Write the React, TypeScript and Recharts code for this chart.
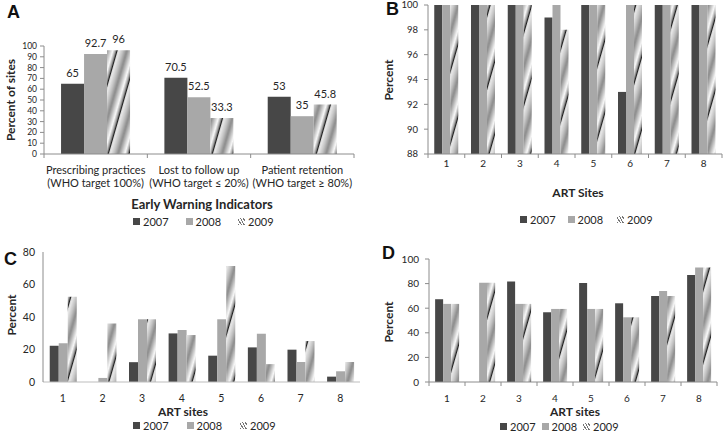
import type { CSSProperties } from "react";
import { BarChart, Bar, XAxis, YAxis, LabelList } from "recharts";

/* ── Data ─────────────────────────────────────────────────────────────── */
const indicators = ["Prescribing practices", "Lost to follow up", "Patient retention"];
const targets = ["(WHO target 100%)", "(WHO target ≤ 20%)", "(WHO target ≥ 80%)"];
const ewi2007 = [65, 70.5, 53];
const ewi2008 = [92.7, 52.5, 35];
const ewi2009 = [96, 33.3, 45.8];

const sites = ["1", "2", "3", "4", "5", "6", "7", "8"];
const b2007 = [100, 100, 100, 99, 100, 93, 100, 100];
const b2008 = [100, 100, 100, 100, 100, 100, 100, 100];
const b2009 = [100, 100, 100, 98, 100, 100, 100, 100];

const c2007 = [22.3, 0, 12.2, 29.9, 16.2, 21.3, 19.9, 3.3];
const c2008 = [23.9, 2.5, 38.6, 32, 38.6, 29.7, 12.3, 6.6];
const c2009 = [52.4, 36, 38.6, 28.9, 71.4, 11, 25.2, 12.3];

const d2007 = [67.3, 0, 81.7, 56.7, 80.4, 64, 70, 87];
const d2008 = [63.5, 80.7, 63.5, 59.4, 59.4, 52.6, 74, 93];
const d2009 = [63.5, 80.7, 63.5, 59.4, 59.4, 52.6, 70, 93];

const years = ["2007", "2008", "2009"];
const ticksA = [0, 10, 20, 30, 40, 50, 60, 70, 80, 90, 100];
const ticksB = [88, 90, 92, 94, 96, 98, 100];
const ticksC = [0, 20, 40, 60, 80];
const ticksD = [0, 20, 40, 60, 80, 100];

const dataA = indicators.map((name, i) => ({ name, target: targets[i], y07: ewi2007[i], y08: ewi2008[i], y09: ewi2009[i] }));
const dataB = sites.map((name, i) => ({ name, y07: b2007[i], y08: b2008[i], y09: b2009[i] }));
const dataC = sites.map((name, i) => ({ name, y07: c2007[i], y08: c2008[i], y09: c2009[i] }));
const dataD = sites.map((name, i) => ({ name, y07: d2007[i], y08: d2008[i], y09: d2009[i] }));

/* ── Styles ───────────────────────────────────────────────────────────── */
const FONT = "Lato, 'Open Sans', sans-serif";
const DARK = "#474747";
const LIGHT = "#a8a8a8";
const AXIS = "#8c8c8c";
const TXT = "#262626";

const abs = (left: number, top: number): CSSProperties => ({ position: "absolute", left, top });

// 2009 fill: shaded diagonal bands, like the old Excel gradient fill
function Hatch({ id }: { id: string }) {
  return (
    <defs>
      <linearGradient id={`g${id}`} x1="0" y1="0" x2="1" y2="0">
        <stop offset="0" stopColor="#d0d0d0" />
        <stop offset="0.12" stopColor="#fafafa" />
        <stop offset="0.26" stopColor="#9a9a9a" />
        <stop offset="0.33" stopColor="#151515" />
        <stop offset="0.38" stopColor="#efefef" />
        <stop offset="0.6" stopColor="#c2c2c2" />
        <stop offset="0.8" stopColor="#8a8a8a" />
        <stop offset="1" stopColor="#d0d0d0" />
      </linearGradient>
      <pattern id={`p${id}`} patternUnits="userSpaceOnUse" width="20" height="20" patternTransform="rotate(16)">
        <rect width="20" height="20" fill={`url(#g${id})`} />
      </pattern>
    </defs>
  );
}

function CatTick(props: any) {
  const { x, y, payload, index, band, n, mark, lines, fs, dy } = props;
  const half = band / 2;
  return (
    <g>
      {mark && <line x1={x - half} x2={x - half} y1={y} y2={y + 4} stroke={AXIS} />}
      {mark && index === n - 1 && <line x1={x + half} x2={x + half} y1={y} y2={y + 4} stroke={AXIS} />}
      <text x={x} y={y + dy} textAnchor="middle" fontSize={fs} fill={TXT} fontFamily={FONT}>
        {lines ? (
          <>
            <tspan x={x}>{payload.value}</tspan>
            <tspan x={x} dy={13}>{lines[index]}</tspan>
          </>
        ) : (
          payload.value
        )}
      </text>
    </g>
  );
}

function Legend({ left, top, gaps }: { left: number; top: number; gaps: number[] }) {
  const sq: CSSProperties = { display: "inline-block", width: 7, height: 7, marginRight: 3 };
  const hatch: CSSProperties = {
    ...sq,
    background: "repeating-linear-gradient(60deg, #777 0 1px, #fff 1px 2.5px)",
  };
  return (
    <div style={{ ...abs(left, top - 7), fontFamily: FONT, fontSize: 11, color: TXT, display: "flex", alignItems: "center", whiteSpace: "nowrap" }}>
      <span style={{ ...sq, background: DARK }} />
      <span style={{ marginRight: gaps[0] }}>{years[0]}</span>
      <span style={{ ...sq, background: LIGHT }} />
      <span style={{ marginRight: gaps[1] }}>{years[1]}</span>
      <span style={hatch} />
      <span>{years[2]}</span>
    </div>
  );
}

function Title({ x, y, text, rotate, size = 12 }: { x: number; y: number; text: string; rotate?: boolean; size?: number }) {
  return (
    <div
      style={{
        ...abs(x, y),
        transform: `translate(-50%,-50%)${rotate ? " rotate(-90deg)" : ""}`,
        fontFamily: FONT,
        fontWeight: 700,
        fontSize: size,
        color: TXT,
        whiteSpace: "nowrap",
        lineHeight: 1,
      }}
    >
      {text}
    </div>
  );
}

function Letter({ x, y, text }: { x: number; y: number; text: string }) {
  return (
    <div style={{ ...abs(x, y), fontFamily: "'Liberation Sans', Arial, sans-serif", fontWeight: 700, fontSize: 18, color: "#111", lineHeight: 1 }}>
      {text}
    </div>
  );
}

function Series({ id, label }: { id: string; label?: boolean }) {
  const lab = { position: "top" as const, offset: 7, fontSize: 11, fill: TXT, fontFamily: FONT };
  return [
    <Bar key="a" dataKey="y07" fill={DARK} isAnimationActive={false}>
      {label && <LabelList dataKey="y07" {...lab} />}
    </Bar>,
    <Bar key="b" dataKey="y08" fill={LIGHT} isAnimationActive={false}>
      {label && <LabelList dataKey="y08" {...lab} />}
    </Bar>,
    <Bar key="c" dataKey="y09" fill={`url(#p${id})`} isAnimationActive={false}>
      {label && <LabelList dataKey="y09" {...lab} />}
    </Bar>,
  ];
}

const tickFont = (fs: number) => ({ fontSize: fs, fill: TXT, fontFamily: FONT });

export default function App() {
  return (
    <div style={{ position: "absolute", left: 0, top: 0, width: 727, height: 435, background: "#fff", overflow: "hidden" }}>
      {/* Panel A */}
      <div style={abs(0, 0)}>
        <BarChart width={362} height={200} data={dataA} margin={{ top: 46, right: 8, bottom: 0, left: 0 }} barGap={0} barCategoryGap="16.5%">
          <Hatch id="A" />
          <XAxis
            dataKey="name"
            height={46}
            tickSize={0}
            tickMargin={0}
            tickLine={false}
            stroke={AXIS}
            interval={0}
            tick={<CatTick band={310 / 3} n={3} mark lines={targets} fs={11} dy={20} />}
          />
          <YAxis width={44} domain={[0, 100]} ticks={ticksA} interval={0} tickSize={4} tickMargin={3} stroke={AXIS} tick={tickFont(8.5)} />
          {Series({ id: "A", label: true })}
        </BarChart>
      </div>
      <Letter x={7} y={3} text="A" />
      <Title x={11} y={100} text="Percent of sites" rotate />
      <Title x={202} y={204} text="Early Warning Indicators" size={13} />
      <Legend left={133} top={222} gaps={[17, 17]} />

      {/* Panel B */}
      <div style={abs(360, 0)}>
        <BarChart width={367} height={200} data={dataB} margin={{ top: 5, right: 5, bottom: 0, left: 0 }} barGap={0} barCategoryGap="17%">
          <Hatch id="B" />
          <XAxis
            dataKey="name"
            height={46}
            tickSize={0}
            tickMargin={0}
            tickLine={false}
            stroke={AXIS}
            interval={0}
            tick={<CatTick band={294 / 8} n={8} mark fs={10} dy={13} />}
          />
          <YAxis width={68} domain={[88, 100]} ticks={ticksB} interval={0} tickSize={4} tickMargin={6} stroke={AXIS} tick={tickFont(9.5)} />
          {Series({ id: "B" })}
        </BarChart>
      </div>
      <Letter x={386} y={0} text="B" />
      <Title x={389} y={80} text="Percent" rotate />
      <Title x={578} y={193} text="ART Sites" />
      <Legend left={520} top={220} gaps={[12, 14]} />

      {/* Panel C */}
      <div style={abs(0, 230)}>
        <BarChart width={362} height={190} data={dataC} margin={{ top: 22, right: 2, bottom: 0, left: 0 }} barGap={0} barCategoryGap="17%">
          <Hatch id="C" />
          <XAxis
            dataKey="name"
            height={38}
            tickSize={0}
            tickMargin={0}
            tickLine={false}
            stroke="#bdbdbd"
            interval={0}
            tick={<CatTick band={317 / 8} n={8} mark={false} fs={10.5} dy={20} />}
          />
          <YAxis width={43} domain={[0, 80]} ticks={ticksC} interval={0} tickLine={false} tickSize={4} tickMargin={4} stroke={AXIS} tick={tickFont(10.5)} />
          {Series({ id: "C" })}
        </BarChart>
      </div>
      <Letter x={4} y={250} text="C" />
      <Title x={12} y={315} text="Percent" rotate />
      <Title x={183} y={412} text="ART sites" />
      <Legend left={133} top={426} gaps={[18, 18]} />

      {/* Panel D */}
      <div style={abs(360, 230)}>
        <BarChart width={367} height={190} data={dataD} margin={{ top: 29, right: 10, bottom: 0, left: 0 }} barGap={0} barCategoryGap="17%">
          <Hatch id="D" />
          <XAxis
            dataKey="name"
            height={38}
            tickSize={0}
            tickMargin={0}
            tickLine={false}
            stroke={AXIS}
            interval={0}
            tick={<CatTick band={288 / 8} n={8} mark fs={10} dy={20} />}
          />
          <YAxis width={69} domain={[0, 100]} ticks={ticksD} interval={0} tickSize={4} tickMargin={6} stroke={AXIS} tick={tickFont(10)} />
          {Series({ id: "D" })}
        </BarChart>
      </div>
      <Letter x={382} y={244} text="D" />
      <Title x={389} y={322} text="Percent" rotate />
      <Title x={575} y={412} text="ART sites" />
      <Legend left={500} top={427} gaps={[6, 6]} />
    </div>
  );
}
